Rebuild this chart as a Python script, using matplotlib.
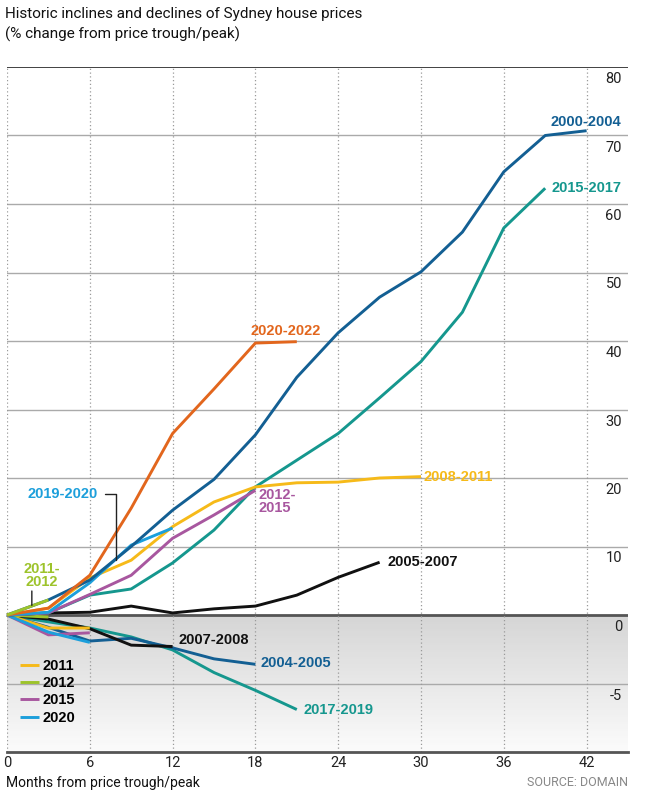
import numpy as np
import matplotlib
matplotlib.use("Agg")
import matplotlib.pyplot as plt
from matplotlib.colors import LinearSegmentedColormap

months = [0, 3, 6, 9, 12, 15, 18, 21, 24, 27, 30, 33, 36, 39, 42]

# upswings, % change from price trough
up_2000_2004 = [0, 2.2, 5.1, 10.0, 15.3, 19.8, 26.3, 34.7, 41.2, 46.4, 50.1, 55.9, 64.7, 70.0, 70.7]
up_2015_2017 = [0, 0.3, 2.9, 3.8, 7.6, 12.4, 18.7, 22.6, 26.5, 31.7, 37.0, 44.2, 56.5, 62.3]
up_2020_2022 = [0, 1.0, 5.8, 15.6, 26.5, 33.0, 39.7, 39.9]
up_2008_2011 = [0, 1.0, 5.4, 8.0, 12.9, 16.5, 18.7, 19.3, 19.4, 20.0, 20.2]
up_2012_2015 = [0, 0.3, 3.0, 5.8, 11.2, 14.6, 18.2]
up_2019_2020 = [0, 0.4, 4.7, 10.2, 12.7]
up_2011_2012 = [0, 2.2]
up_2005_2007 = [0, 0.3, 0.4, 1.3, 0.3, 0.9, 1.3, 2.9, 5.5, 7.7]

# downswings, % change from price peak
down_2007_2008 = [0, -0.3, -1.0, -2.2, -2.3]
down_2004_2005 = [0, -0.9, -1.9, -1.7, -2.4, -3.2, -3.6]
down_2017_2019 = [0, -0.5, -0.95, -1.6, -2.55, -4.2, -5.5, -6.9]
down_2011 = [0, -0.95, -0.95]
down_2012 = [0, -0.15]
down_2015 = [0, -1.45, -1.3]
down_2020 = [0, -1.25, -2.0]

y_ticks = [-5, 0, 10, 20, 30, 40, 50, 60, 70, 80]
x_ticks = [0, 6, 12, 18, 24, 30, 36, 42]

DBLUE = "#135f93"
TEAL = "#15978e"
ORANGE = "#e2661d"
YELLOW = "#f6ba19"
PURPLE = "#a8579f"
LBLUE = "#1c9fdb"
LIME = "#9dc32b"
BLACK = "#111111"

NARROW = ["Roboto", "DejaVu Sans"]
BOLD = ["Liberation Sans", "DejaVu Sans"]

fig = plt.figure(figsize=(6.48, 8.09), dpi=100)
ax = fig.add_axes([7 / 648, 1 - 752 / 809, 621 / 648, 685 / 809])


# the chart draws the negative half at twice the scale
def fwd(y):
    y = np.asarray(y, dtype=float)
    return np.where(y < 0, 2 * y, y)


def inv(y):
    y = np.asarray(y, dtype=float)
    return np.where(y < 0, y / 2, y)


ax.set_yscale("function", functions=(fwd, inv))
ax.set_xlim(0, 45)
ax.set_ylim(-10, 80)

# grey gradient below zero
shade = LinearSegmentedColormap.from_list("shade", ["#fbfbfb", "#d5d5d5"])
yy = np.linspace(-10, 0, 60)
ax.pcolormesh([0, 45], yy, ((yy[:-1] + yy[1:]) / 2).reshape(-1, 1),
              cmap=shade, vmin=-10, vmax=0, zorder=0, shading="flat")

for v in y_ticks:
    if v == 0:
        ax.axhline(v, color="#555555", lw=2, zorder=1)
    elif v == 80:
        ax.axhline(v, color="#333333", lw=1.3, zorder=1)
    else:
        ax.axhline(v, color="#aaaaaa", lw=1, zorder=1)
    ax.annotate(str(v), xy=(1, v), xycoords=("axes fraction", "data"),
                xytext=(-6, -5), textcoords="offset pixels", ha="right", va="top",
                fontsize=10.5, family=NARROW, color="#222222")

ax.set_xticks(x_ticks)
ax.grid(axis="x", linestyle=(0, (1, 2)), color="#9a9a9a", lw=0.9, zorder=1)
ax.set_yticks([])
ax.tick_params(axis="x", length=0, pad=3, labelsize=10.5, labelcolor="#222222")
for lab in ax.get_xticklabels():
    lab.set_family(NARROW)
for s in ["top", "left", "right"]:
    ax.spines[s].set_visible(False)
ax.spines["bottom"].set_color("#555555")
ax.spines["bottom"].set_linewidth(2)

lines = [
    (down_2017_2019, TEAL, None),
    (down_2004_2005, DBLUE, None),
    (down_2007_2008, BLACK, None),
    (down_2011, YELLOW, "2011"),
    (down_2012, LIME, "2012"),
    (down_2015, PURPLE, "2015"),
    (down_2020, LBLUE, "2020"),
    (up_2005_2007, BLACK, None),
    (up_2015_2017, TEAL, None),
    (up_2012_2015, PURPLE, None),
    (up_2008_2011, YELLOW, None),
    (up_2019_2020, LBLUE, None),
    (up_2000_2004, DBLUE, None),
    (up_2020_2022, ORANGE, None),
    (up_2011_2012, LIME, None),
]
handles = {}
for vals, col, lab in lines:
    ln, = ax.plot(months[:len(vals)], vals, color=col, lw=2.1, zorder=3,
                  solid_capstyle="butt", clip_on=False)
    if lab:
        handles[lab] = ln

lbl = dict(family=BOLD, fontweight="bold", fontsize=10.5, zorder=5)
ax.text(44.5, 72.0, "2000-2004", color=DBLUE, ha="right", va="center", **lbl)
ax.text(44.5, 62.3, "2015-2017", color=TEAL, ha="right", va="center", **lbl)
ax.text(20.2, 41.5, "2020-2022", color=ORANGE, ha="center", va="center", **lbl)
ax.text(30.2, 20.1, "2008-2011", color=YELLOW, ha="left", va="center", **lbl)
ax.text(18.2, 16.6, "2012-\n2015", color=PURPLE, ha="left", va="center",
        linespacing=0.95, **lbl)
ax.text(27.6, 7.7, "2005-2007", color=BLACK, ha="left", va="center", **lbl)
ax.text(12.4, -1.8, "2007-2008", color=BLACK, ha="left", va="center", **lbl)
ax.text(18.4, -3.5, "2004-2005", color=DBLUE, ha="left", va="center", **lbl)
ax.text(21.5, -6.9, "2017-2019", color=TEAL, ha="left", va="center", **lbl)
ax.text(2.5, 5.8, "2011-\n2012", color=LIME, ha="center", va="center",
        linespacing=0.95, **lbl)
ax.annotate("", xy=(1.8, 1.4), xytext=(1.8, 3.5),
            arrowprops=dict(arrowstyle="-", color="#222222", lw=1,
                            shrinkA=0, shrinkB=0))
ax.annotate("2019-2020", xy=(7.9, 8.0), xytext=(6.6, 17.7), color=LBLUE,
            ha="right", va="center",
            arrowprops=dict(arrowstyle="-", color="#222222", lw=1, shrinkA=3, shrinkB=0,
                            connectionstyle="angle,angleA=0,angleB=90,rad=0"),
            **lbl)

ax.legend([handles[k] for k in ["2011", "2012", "2015", "2020"]],
          ["2011", "2012", "2015", "2020"], loc="lower left",
          bbox_to_anchor=(0.005, 0.025), frameon=False, handlelength=1.3,
          handletextpad=0.25, labelspacing=0.22, borderpad=0.2,
          prop=dict(family=BOLD, weight="bold", size=10.5))

fig.text(5 / 648, 1 - 7 / 809,
         "Historic inclines and declines of Sydney house prices\n(% change from price trough/peak)",
         ha="left", va="top", fontsize=11, family=NARROW, color="#111111",
         linespacing=1.45)
fig.text(6 / 648, 1 - 783 / 809, "Months from price trough/peak", ha="left",
         va="center", fontsize=10, family=NARROW, color="#111111")
fig.text(628 / 648, 1 - 783 / 809, "SOURCE: DOMAIN", ha="right", va="center",
         fontsize=9, family=NARROW, color="#888888")

fig.savefig("out.png", dpi=100)
